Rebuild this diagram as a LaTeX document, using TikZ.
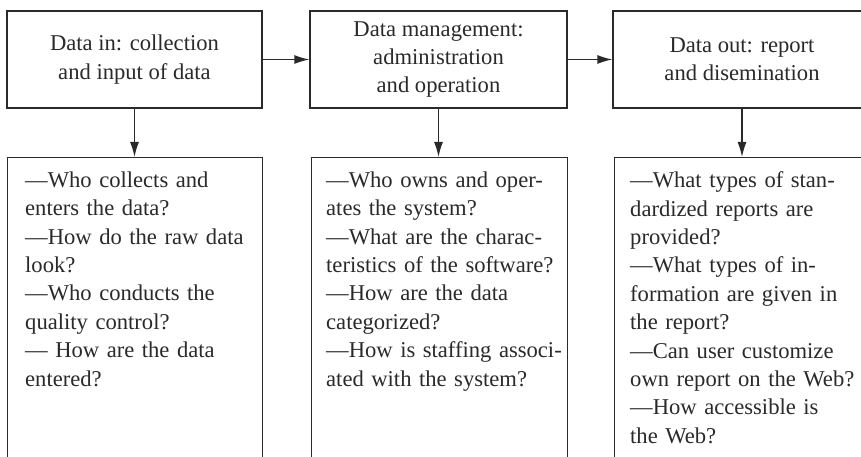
\documentclass[tikz,border=0pt]{standalone}
\usepackage{fontspec}
\setmainfont{Liberation Serif}
\usetikzlibrary{arrows.meta,calc}
\definecolor{ink}{HTML}{2A2A2A}
\tikzset{
  every picture/.style={x=1pt,y=-1pt},
  topbox/.style={draw=ink, line width=1.3pt, rectangle, minimum height=97pt, inner sep=0pt,
    align=center, text=ink, font=\fontsize{22.6}{28.4}\selectfont},
  qbox/.style={draw=ink, line width=1.3pt, rectangle, anchor=north west, minimum height=330pt, inner sep=0pt},
  qtext/.style={anchor=north west, inner sep=0pt, text width=260pt, align=left, text=ink,
    font=\fontsize{22.6}{28.4}\selectfont},
  flow/.style={draw=ink, line width=1.3pt, -{Latex[length=15pt,width=9pt]}}
}
\begin{document}
\begin{tikzpicture}
\useasboundingbox (0,0) rectangle (861,457);
\clip (0,0) rectangle (861,457);
\fill[white] (0,0) rectangle (861,457);

\node[topbox, minimum width=255pt] (a) at (134.5,59.5) {Data in: collection\\and input of data};
\node[topbox, minimum width=257pt] (b) at (438.5,59.5) {Data management:\\administration\\ and operation};
\node[topbox, minimum width=258pt] (c) at (742,59.5) {Data out: report\\and disemination};

\node[qbox, minimum width=255pt] (qa) at (7,157) {};
\node[qbox, minimum width=256pt] (qb) at (310.5,157) {};
\node[qbox, minimum width=254pt] (qc) at (614,157) {};

\node[qtext] (ta) at ($(qa.north west)+(18,14.5)$) {—Who collects and\\enters the data?\\—How do the raw data\\look?\\—Who conducts the\\quality control?\\— How are the data\\entered?};
\node[qtext] (tb) at ($(qb.north west)+(15.5,14.5)$) {—Who owns and oper-\\ates the system?\\—What are the charac-\\teristics of the software?\\—How are the data\\categorized?\\—How is staffing associ-\\ated with the system?};
\node[qtext] (tc) at ($(qc.north west)+(16,14.5)$) {—What types of stan-\\dardized reports are\\provided?\\—What types of in-\\formation are given in\\the report?\\—Can user customize\\own report on the Web?\\—How accessible is\\the Web?};

\draw[flow] (a.east) -- (b.west);
\draw[flow] (b.east) -- (c.west);
\draw[flow] (a.south) -- (qa.north -| a.south);
\draw[flow] (b.south) -- (qb.north -| b.south);
\draw[flow] (c.south) -- (qc.north -| c.south);
\end{tikzpicture}
\end{document}
